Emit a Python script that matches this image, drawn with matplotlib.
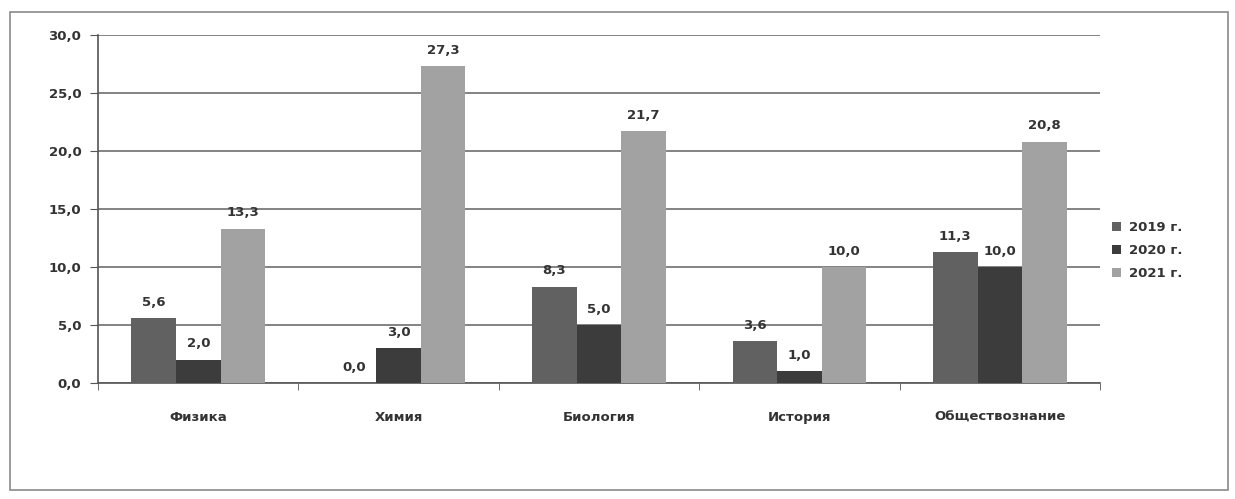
import matplotlib
matplotlib.use('Agg')
import matplotlib.pyplot as plt
from matplotlib.patches import Rectangle
import numpy as np

subjects = ["Физика", "Химия", "Биология", "История", "Обществознание"]
years = ["2019 г.", "2020 г.", "2021 г."]
v2019 = [5.6, 0.0, 8.3, 3.6, 11.3]
v2020 = [2.0, 3.0, 5.0, 1.0, 10.0]
v2021 = [13.3, 27.3, 21.7, 10.0, 20.8]
yticks = [0, 5, 10, 15, 20, 25, 30]

colors = ["#616161", "#3c3c3c", "#a2a2a2"]

def fmt(v):
    return f"{v:.1f}".replace(".", ",")

fig = plt.figure(figsize=(12.35, 4.99), dpi=100)
fig.add_artist(Rectangle((0.008, 0.018), 0.986, 0.957, transform=fig.transFigure,
                         fill=False, edgecolor="#8a8a8a", linewidth=1.2))
ax = fig.add_axes([0.0794, 0.2325, 0.8113, 0.6975])

x = np.arange(len(subjects))
w = 1 / 4.5
series = [v2019, v2020, v2021]
for i, vals in enumerate(series):
    pos = x + (i - 1) * w
    ax.bar(pos, vals, width=w, color=colors[i], label=years[i], zorder=3)
    for p, v in zip(pos, vals):
        ax.text(p, v + 0.8, fmt(v), ha="center", va="bottom", fontsize=9.5,
                fontweight="bold", color="#333333", zorder=4)

ax.set_xlim(-0.5, len(subjects) - 0.5)
ax.set_ylim(0, 30)
ax.set_yticks(yticks)
ax.set_yticklabels([fmt(t) for t in yticks], fontsize=9.5, fontweight="bold", color="#333333")
ax.yaxis.grid(True, color="#7a7a7a", linewidth=1.3, zorder=0)
ax.set_axisbelow(True)

ax.set_xticks(x)
ax.set_xticklabels(subjects, fontsize=9.5, fontweight="bold", color="#333333")
ax.set_xticks(np.arange(len(subjects) + 1) - 0.5, minor=True)
ax.tick_params(axis="x", which="major", length=0, pad=20)
ax.tick_params(axis="x", which="minor", length=5, color="#555555")
ax.tick_params(axis="y", length=6, color="#555555", pad=6)

for side in ["top", "right"]:
    ax.spines[side].set_visible(False)
ax.spines["left"].set_color("#555555")
ax.spines["bottom"].set_color("#555555")
ax.spines["left"].set_linewidth(1.2)
ax.spines["bottom"].set_linewidth(1.2)

leg = ax.legend(loc="center left", bbox_to_anchor=(1.0, 0.38), frameon=False,
                fontsize=9.5, handlelength=0.7, handleheight=0.7, labelspacing=0.75,
                handletextpad=0.6)
for t in leg.get_texts():
    t.set_color("#333333")
    t.set_fontweight("bold")

fig.savefig("out.png", dpi=100)
